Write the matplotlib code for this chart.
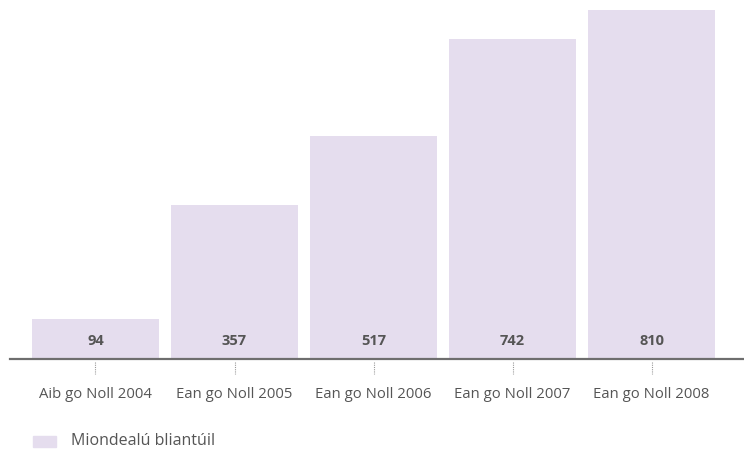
import matplotlib
matplotlib.use("Agg")
import matplotlib.pyplot as plt
from matplotlib.patches import Rectangle

periods = ["Aib go Noll 2004", "Ean go Noll 2005", "Ean go Noll 2006",
           "Ean go Noll 2007", "Ean go Noll 2008"]
annual = [94, 357, 517, 742, 810]
series_name = "Miondealú bliantúil"

bar_color = "#e5ddee"
text_color = "#555555"
axis_color = "#6e6e6e"

plt.rcParams["font.family"] = ["Open Sans", "DejaVu Sans"]

fig = plt.figure(figsize=(7.44, 4.52), dpi=100)
ax = fig.add_axes([10 / 744, 92 / 452, 734 / 744, 360 / 452])

x = list(range(len(periods)))
ax.bar(x, annual, width=0.914, color=bar_color, zorder=1)

ymax = 836
ax.set_xlim(-0.615, 4.665)
ax.set_ylim(0, ymax)
px = 360 / ymax  # pixels per unit

for xi, v in zip(x, annual):
    ax.text(xi, 19 / px, f"{v}", ha="center", va="center", fontsize=10.5,
            fontweight="bold", color=text_color)

for side in ["top", "right", "left"]:
    ax.spines[side].set_visible(False)
ax.spines["bottom"].set_color(axis_color)
ax.spines["bottom"].set_linewidth(1.6)
ax.set_yticks([])

ax.set_xticks(x)
ax.set_xticklabels(periods, fontsize=10.7, color=text_color)
ax.tick_params(axis="x", length=0, pad=19.5)

# dotted tick marks under each category
for xi in x:
    ax.plot([xi, xi], [-3 / px, -15 / px], color="#999999",
            linestyle=(0, (1, 1)), linewidth=0.8, clip_on=False)

# legend swatch and label
fig.patches.append(Rectangle((33 / 744, (452 - 448) / 452), 23 / 744, 11 / 452,
                             transform=fig.transFigure, color=bar_color))
fig.text(71 / 744, (452 - 441) / 452, series_name, fontsize=11.5,
         color=text_color, va="center", ha="left")

fig.savefig("out.png", dpi=100)
